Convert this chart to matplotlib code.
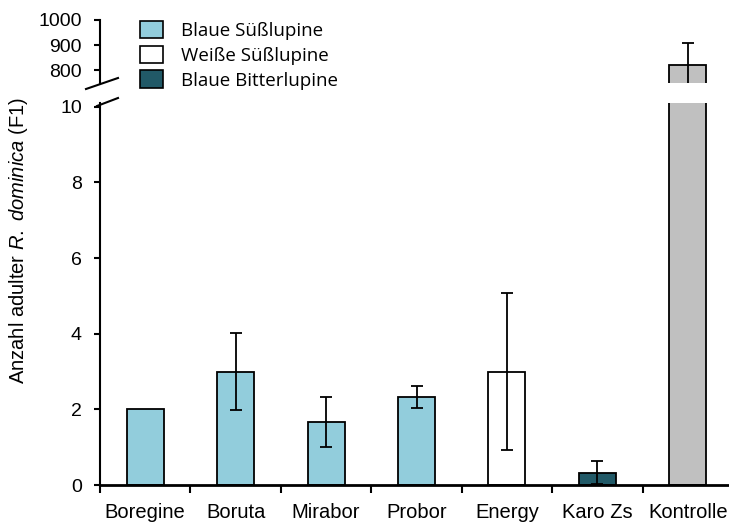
import numpy as np
import matplotlib.pyplot as plt
from matplotlib.patches import Patch
from matplotlib.lines import Line2D

plt.rcParams['font.family'] = 'Liberation Sans'
plt.rcParams['mathtext.fontset'] = 'custom'
plt.rcParams['mathtext.rm'] = 'Liberation Sans'
plt.rcParams['mathtext.it'] = 'Liberation Sans:italic'

sorten = ['Boregine', 'Boruta', 'Mirabor', 'Probor', 'Energy', 'Karo Zs', 'Kontrolle']
mittel = [2.0, 3.0, 1.67, 2.33, 3.0, 0.33, 820.0]
fehler = [0.0, 1.02, 0.66, 0.3, 2.08, 0.3, 90.0]
farben = ['#92CDDC', '#92CDDC', '#92CDDC', '#92CDDC', '#FFFFFF', '#215967', '#C0C0C0']
legende = ['Blaue Süßlupine', 'Weiße Süßlupine', 'Blaue Bitterlupine']
legende_farben = ['#92CDDC', '#FFFFFF', '#215967']

W, H = 729, 522
fig = plt.figure(figsize=(W / 100, H / 100), dpi=100)
ax = fig.add_axes([100 / W, 1 - 485 / H, 633 / W, (485 - 103) / H])
ax_top = fig.add_axes([100 / W, 1 - 83 / H, 633 / W, 63 / H])

x = np.arange(len(sorten))
for a in (ax, ax_top):
    a.bar(x, mittel, width=0.41, color=farben, edgecolor='black', linewidth=1.3, zorder=2)
    a.set_xlim(-0.5, len(sorten) - 0.5)
    for s in ('top', 'right'):
        a.spines[s].set_visible(False)
    a.spines['left'].set_linewidth(1.5)
    a.tick_params(axis='y', direction='out', length=4, width=1.5, labelsize=14, pad=9)

# Fehlerbalken unten (ohne Kontrolle), oben nur Kontrolle
err_lo = [e if e > 0 else np.nan for e in fehler[:-1]]
ax.errorbar(x[:-1], mittel[:-1], yerr=err_lo, fmt='none', ecolor='black',
            elinewidth=1.3, capsize=4, capthick=1.3, zorder=3)
ax_top.errorbar(x[-1:], mittel[-1:], yerr=fehler[-1:], fmt='none', ecolor='black',
                elinewidth=1.3, capsize=4, capthick=1.3, zorder=3)

ax.set_ylim(0, 10.1)
ax.set_yticks([0, 2, 4, 6, 8, 10])
ax.set_xticks(np.arange(len(sorten) + 1) - 0.5, minor=False)
ax.set_xticklabels([])
ax.set_xticks(x, minor=True)
ax.set_xticklabels(sorten, minor=True, fontsize=14.5)
ax.tick_params(axis='x', which='major', direction='out', length=6, width=1.5)
ax.tick_params(axis='x', which='minor', length=0, pad=13)
ax.spines['bottom'].set_linewidth(2)

ax_top.set_ylim(750, 1000)
ax_top.set_yticks([800, 900, 1000])
ax_top.spines['bottom'].set_visible(False)
ax_top.set_xticks([])

# Achsenbruch
fig.add_artist(Line2D([86 / W, 118 / W], [1 - 89 / H, 1 - 78 / H], color='black', lw=1.5))
fig.add_artist(Line2D([97 / W, 118 / W], [1 - 106 / H, 1 - 98 / H], color='black', lw=1.5))

fig.text(19 / W, 1 - 240 / H, r'Anzahl adulter $\mathit{R.\ dominica}$ (F1)',
         rotation=90, ha='center', va='center', fontsize=14.5)

handles = [Patch(facecolor=c, edgecolor='black', linewidth=1.2) for c in legende_farben]
fig.legend(handles, legende, loc='upper left', bbox_to_anchor=(140 / W, 1 - 21 / H),
           frameon=False, prop={'family': 'Open Sans', 'size': 13.5},
           handlelength=1.2, handleheight=1.05, handletextpad=1.0, labelspacing=0.3,
           borderaxespad=0, borderpad=0)

fig.savefig('out.png', dpi=100)
